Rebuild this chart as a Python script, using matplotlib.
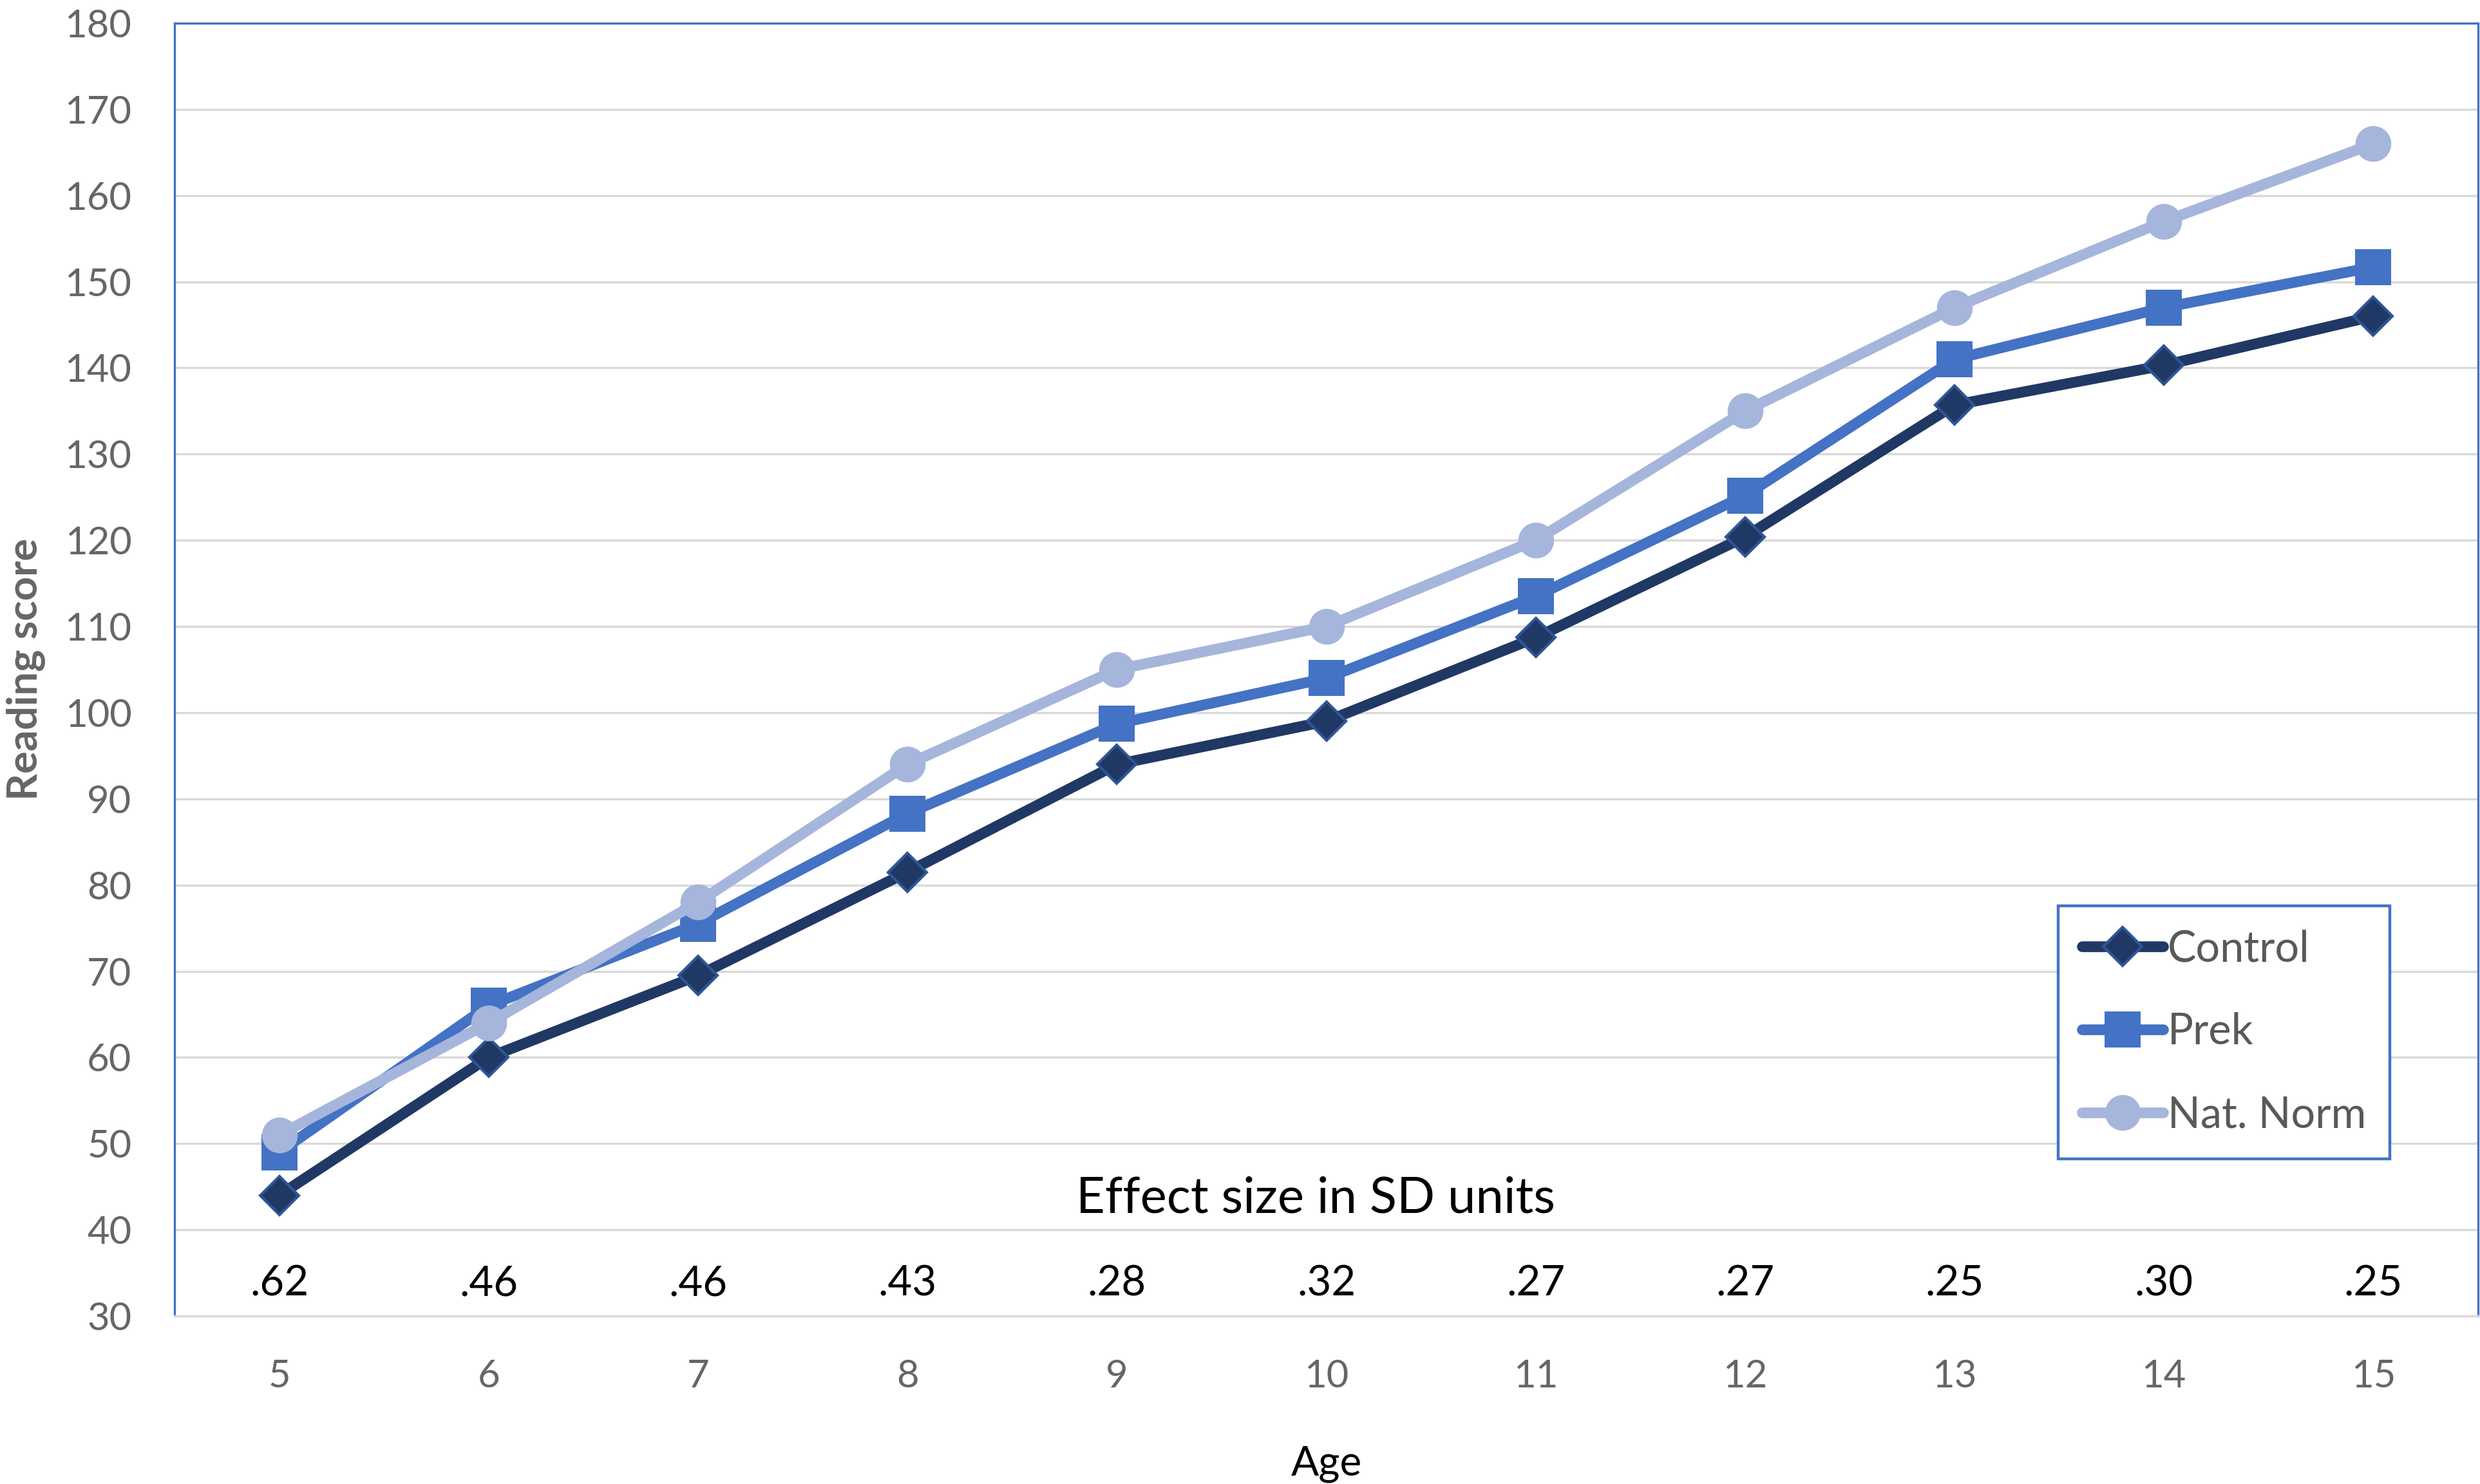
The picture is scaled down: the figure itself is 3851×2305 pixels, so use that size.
import matplotlib
matplotlib.use("Agg")
import matplotlib.pyplot as plt

plt.rcParams['font.family'] = ['Lato', 'DejaVu Sans']

ages = [5, 6, 7, 8, 9, 10, 11, 12, 13, 14, 15]
control = [44, 60, 69.5, 81.5, 94, 99, 108.7, 120.4, 135.7, 140.3, 146]
prek = [49, 66, 75.5, 88.3, 98.7, 104, 113.5, 125.2, 141, 147, 151.7]
nat_norm = [51, 64, 78, 94, 105, 110, 120, 135, 147, 157, 166]
effect_sizes = [".62", ".46", ".46", ".43", ".28", ".32", ".27", ".27", ".25", ".30", ".25"]
yticks = list(range(30, 181, 10))

W, H = 3851, 2305
dpi = 100
fig = plt.figure(figsize=(W / dpi, H / dpi), dpi=dpi)
ax_l, ax_r, ax_t, ax_b = 271, 3848, 36, 2044
ax = fig.add_axes([ax_l / W, 1 - ax_b / H, (ax_r - ax_l) / W, (ax_b - ax_t) / H])

c_control = '#203864'
c_control_edge = '#2F5597'
c_prek = '#4472C4'
c_norm = '#A6B5DB'

ax.plot(ages, control, color=c_control, lw=12, marker='D', markersize=31,
        markerfacecolor=c_control, markeredgecolor=c_control_edge, markeredgewidth=3,
        label='Control', zorder=3, solid_capstyle='round')
ax.plot(ages, prek, color=c_prek, lw=12, marker='s', markersize=41,
        markerfacecolor=c_prek, markeredgecolor=c_prek, markeredgewidth=0,
        label='Prek', zorder=4, solid_capstyle='round')
ax.plot(ages, nat_norm, color=c_norm, lw=12, marker='o', markersize=40,
        markerfacecolor=c_norm, markeredgecolor=c_norm, markeredgewidth=0,
        label='Nat. Norm', zorder=5, solid_capstyle='round')

ax.set_xlim(4.5, 15.5)
ax.set_ylim(30, 180)
ax.set_yticks(yticks)
ax.set_xticks(ages)
ax.set_xticklabels([str(a) for a in ages])
ax.yaxis.grid(True, color='#D9D9D9', lw=2.4, zorder=0)
ax.set_axisbelow(True)
ax.tick_params(axis='both', length=0, labelsize=43, labelcolor='#666666')
ax.tick_params(axis='y', pad=48)
ax.tick_params(axis='x', pad=48)

for s in ['left', 'top', 'right']:
    ax.spines[s].set_color('#4472C4')
    ax.spines[s].set_linewidth(2.4)
ax.spines['bottom'].set_color('#D9D9D9')
ax.spines['bottom'].set_linewidth(2.4)

for a, e in zip(ages, effect_sizes):
    ax.text(a, 33.7, e, ha='center', va='center', fontsize=47, color='black')
ax.text(9.95, 43.6, 'Effect size in SD units', ha='center', va='center',
        fontsize=56, color='black')

ax.set_xlabel('Age', fontsize=46, color='#000000')
ax.xaxis.set_label_coords(0.5, -0.1145)
ax.xaxis.label.set_va('center')
ax.set_ylabel('Reading score', fontsize=47, color='#666666', fontweight='bold')
ax.yaxis.set_label_coords(-0.0643, 0.5)
ax.yaxis.label.set_va('center')

leg = ax.legend(loc='upper left', bbox_to_anchor=(0.8177, 0.3172), fontsize=48,
                frameon=True, fancybox=False, edgecolor='#4472C4', framealpha=1,
                borderpad=0.55, labelspacing=1.0, handlelength=1.9, handletextpad=0.1,
                borderaxespad=0)
leg.get_frame().set_linewidth(3.2)
for t in leg.get_texts():
    t.set_color('#595959')

fig.savefig('out.png', dpi=dpi)
